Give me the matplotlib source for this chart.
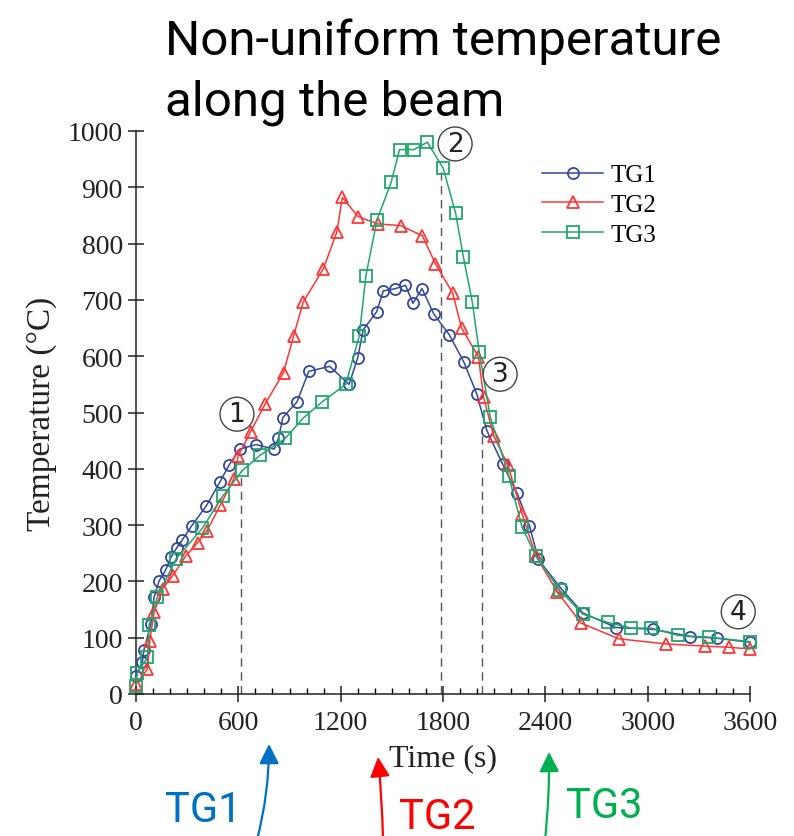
import numpy as np
import matplotlib
matplotlib.use('Agg')
import matplotlib.pyplot as plt
from matplotlib.ticker import MultipleLocator

# temperaturak (idő s, hőmérséklet °C) - leolvasva az abráról
tg1_t = [0, 37, 47, 87, 106, 136, 175, 205, 240, 270, 327, 412, 491, 546, 609, 704, 810, 835, 861,
         944, 1013, 1135, 1249, 1299, 1332, 1411, 1450, 1521, 1580, 1624, 1677, 1746, 1837, 1923,
         1998, 2057, 2150, 2234, 2307, 2359, 2491, 2619, 2816, 3033, 3250, 3407, 3600]
tg1_T = [32, 56, 79, 124, 172, 201, 221, 243, 260, 273, 299, 334, 376, 407, 435, 443, 435, 454, 491,
         519, 573, 582, 550, 596, 647, 679, 716, 720, 726, 694, 720, 675, 638, 589,
         533, 468, 408, 357, 299, 239, 188, 144, 118, 115, 102, 99, 92]

tg2_t = [0, 67, 81, 106, 156, 215, 294, 362, 416, 495, 574, 599, 672, 757, 865, 924, 980, 1098, 1177,
         1210, 1302, 1417, 1551, 1679, 1756, 1857, 1909, 2008, 2038, 2097, 2181, 2264, 2343, 2471,
         2609, 2831, 3107, 3338, 3475, 3600]
tg2_T = [18, 44, 95, 145, 187, 210, 246, 269, 290, 336, 382, 423, 466, 515, 571, 636, 696, 755, 820,
         882, 848, 835, 832, 814, 764, 712, 650, 599, 527, 459, 406, 320, 246, 181,
         126, 98, 89, 85, 83, 80]

tg3_t = [0, 8, 67, 77, 126, 235, 388, 510, 624, 727, 875, 980, 1092, 1230, 1309, 1348, 1413, 1496,
         1545, 1630, 1708, 1801, 1874, 1919, 1972, 2012, 2077, 2185, 2264, 2343, 2485, 2619, 2767,
         2904, 3022, 3180, 3358, 3600]
tg3_T = [15, 38, 65, 123, 173, 240, 294, 352, 397, 424, 454, 490, 519, 550, 636, 743, 842, 909,
         967, 967, 980, 934, 854, 777, 696, 608, 492, 388, 296, 246, 184, 142, 127,
         117, 117, 104, 101, 93]

# szaggatott függőleges vonalak (idő, felső érték) és bekarikázott számok
vline_t = [617, 1790, 2030]
vline_top = [397, 934, 458]
mark_lbl = ['1', '2', '3', '4']
mark_t = [592, 1871, 2135, 3531]
mark_T = [497, 977, 568, 146]

serif = ['Liberation Serif', 'DejaVu Serif']
sans = ['Roboto', 'DejaVu Sans']

fig = plt.figure(figsize=(7.94, 8.37), dpi=100)
ax = fig.add_axes([136 / 794, 142 / 837, 614 / 794, 563 / 837])

c1, c2, c3 = '#33479A', '#FF3535', '#1FA66C'
kw = dict(lw=1.1, ms=8, mew=1.3, mfc='none', clip_on=False, zorder=3)
ax.plot(tg1_t, tg1_T, '-o', color=c1, label='TG1', **kw)
ax.plot(tg2_t, tg2_T, '-^', color=c2, label='TG2', **kw)
ax.plot(tg3_t, tg3_T, '-s', color=c3, label='TG3', **kw)

for t, top in zip(vline_t, vline_top):
    ax.plot([t, t], [0, top], ls=(0, (6, 4)), color='#555555', lw=1.0, zorder=2)

for s, t, T in zip(mark_lbl, mark_t, mark_T):
    ax.text(t, T, s, ha='center', va='center', fontsize=19, family='DejaVu Sans', color='#222222',
            bbox=dict(boxstyle='circle,pad=0.15', fc='white', ec='#444444', lw=1.0), zorder=4)

ax.set_xlim(0, 3600)
ax.set_ylim(0, 1000)
ax.xaxis.set_major_locator(MultipleLocator(600))
ax.xaxis.set_minor_locator(MultipleLocator(100))
ax.yaxis.set_major_locator(MultipleLocator(100))
ax.tick_params(axis='both', which='major', direction='inout', length=11, width=1.1,
               labelsize=20, colors='#222222')
ax.tick_params(axis='x', which='major', pad=6)
ax.tick_params(axis='y', which='major', pad=4)
ax.tick_params(axis='x', which='minor', direction='in', length=4, width=1.0)
for lab in ax.get_xticklabels() + ax.get_yticklabels():
    lab.set_family(serif)
for sp in ['top', 'right']:
    ax.spines[sp].set_visible(False)
for sp in ['left', 'bottom']:
    ax.spines[sp].set_linewidth(1.1)
    ax.spines[sp].set_color('#222222')

ax.set_xlabel('Time (s)', fontsize=23, family=serif, color='#222222', labelpad=6)
ax.set_ylabel('Temperature (°C)', fontsize=24, family=serif, color='#222222', labelpad=8)

ax.legend(loc='upper left', bbox_to_anchor=(542 / 794, 1 - 165 / 837), bbox_transform=fig.transFigure,
          frameon=False, prop={'family': serif, 'size': 18}, handlelength=2.44, handletextpad=0.3,
          labelspacing=0.28, borderaxespad=0, borderpad=0)

# cím
fig.text(165 / 794, 1 - 55 / 837, 'Non-uniform temperature', fontsize=35.5, family=sans, va='baseline')
fig.text(165 / 794, 1 - 115 / 837, 'along the beam', fontsize=35.5, family=sans, va='baseline')

# nyilak alul
arrows = [('TG1', '#0070C0', (203, 837 - 822), (257, -4), (269, 837 - 745), 0.065),
          ('TG2', '#FF0000', (437, 837 - 829), (383, -4), (378, 837 - 758), 0.02),
          ('TG3', '#00B050', (604, 837 - 818), (545, -4), (549, 837 - 753), 0.03)]
for name, col, tpos, tail, tip, rad in arrows:
    fig.text(tpos[0] / 794, tpos[1] / 837, name, fontsize=30, family=sans, color=col,
             ha='center', va='baseline')
    ax.annotate('', xy=tip, xycoords='figure pixels', xytext=tail, textcoords='figure pixels',
                arrowprops=dict(arrowstyle='-|>,head_length=0.6,head_width=0.3', color=col, lw=1.6,
                                mutation_scale=20, shrinkA=0, shrinkB=0,
                                connectionstyle=f'arc3,rad={rad}'),
                annotation_clip=False)

fig.savefig('out.png', dpi=100)
